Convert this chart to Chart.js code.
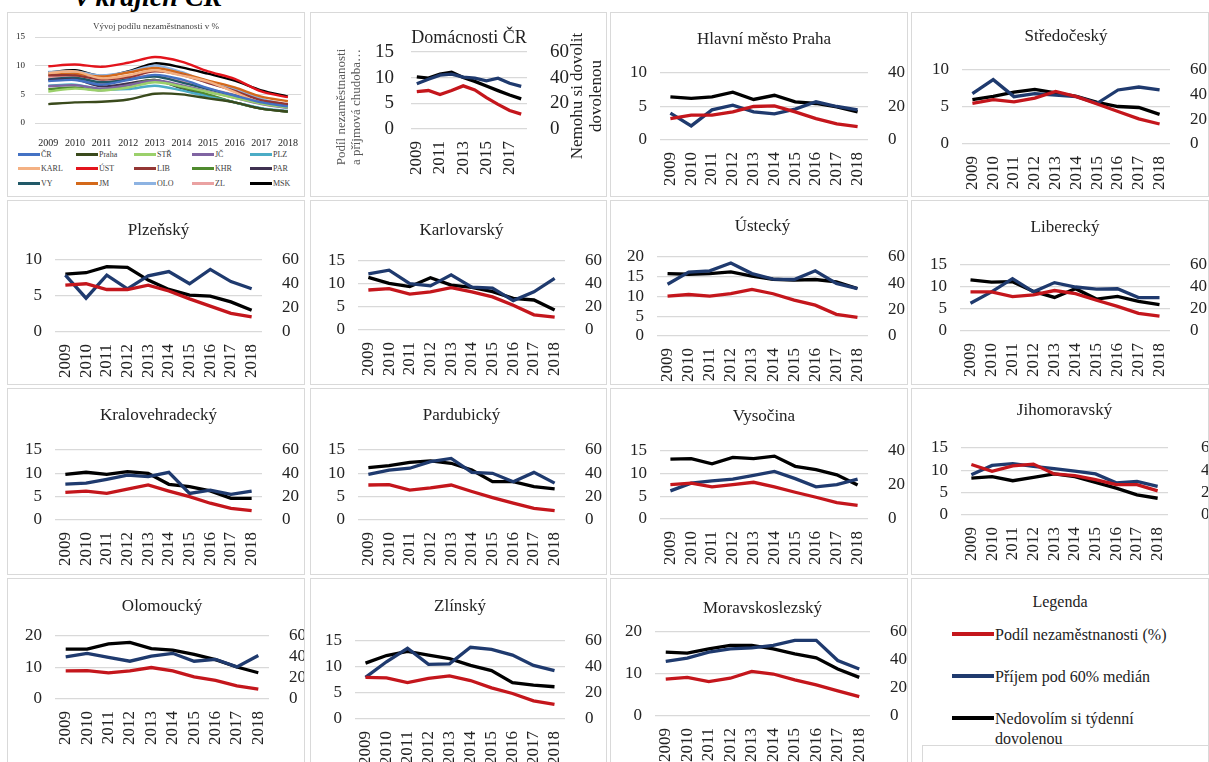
<!DOCTYPE html>
<html>
<head>
<meta charset="utf-8">
<title>Nezaměstnanost, příjmová chudoba a dovolená v krajích ČR</title>
<script src="https://cdn.jsdelivr.net/npm/chart.js@4.4.1/dist/chart.umd.min.js"></script>
<style>
    body { margin: 0; background: #fff; font-family: "Liberation Serif", "Times New Roman", serif; }
    #page { position: relative; width: 1209px; height: 762px; overflow: hidden; background: #fff; }
    .heading { position: absolute; left: 76px; top: -17px; font-size: 28px; font-weight: bold; font-style: italic; line-height: 1; color: #000; }
    .panel { position: absolute; border: 1px solid #d9d9d9; box-sizing: border-box; background: #fff; overflow: hidden; }
    .panel canvas { position: absolute; left: 0; top: 0; }
    .ovLegend { position: absolute; left: 10px; top: 135px; width: 290px; display: grid; grid-template-columns: repeat(5, 58px); row-gap: 2.5px; }
    .ovItem { display: flex; align-items: center; font-size: 8px; color: #404040; height: 12px; white-space: nowrap; }
    .ovItem span { display: inline-block; width: 22px; height: 3px; margin-right: 1px; }
    .lgTitle { position: absolute; left: 0; right: 0; top: 14px; text-align: center; font-size: 16px; color: #222; }
    .lgItem { position: absolute; left: 40px; font-size: 16px; color: #222; line-height: 20px; }
    .lgItem span { display: inline-block; width: 42px; height: 4px; vertical-align: middle; margin-right: 1px; position: relative; top: -2px; }
    .lgBox { position: absolute; left: 10px; top: 166px; width: 300px; height: 40px; border: 1px solid #d9d9d9; }
</style>
</head>
<body>
<div id="page">
    <div class="heading">v krajích ČR</div>
</div>

<script>
// ------------------------------------------------------------
// Data
// ------------------------------------------------------------
var years = ['2009', '2010', '2011', '2012', '2013', '2014', '2015', '2016', '2017', '2018'];

// overview panel: unemployment share by region (%)
var overviewTitle = 'Vývoj podílu nezaměstnanosti v %';
var overviewCodes = ['ČR', 'Praha', 'STŘ', 'JČ', 'PLZ', 'KARL', 'ÚST', 'LIB', 'KHR', 'PAR', 'VY', 'JM', 'OLO', 'ZL', 'MSK'];
var rateCR    = [7.3, 7.5, 6.7, 7.5, 8.4, 7.6, 6.1, 4.8, 3.6, 2.9];
var ratePraha = [3.3, 3.6, 3.7, 4.1, 5.1, 5.0, 4.3, 3.6, 2.5, 2.0];
var rateSTR   = [5.5, 6.0, 5.7, 6.2, 7.1, 6.4, 5.4, 4.4, 3.4, 2.7];
var rateJC    = [6.4, 6.6, 6.0, 6.6, 7.4, 6.6, 5.5, 4.4, 3.3, 2.6];
var ratePLZ   = [6.5, 6.7, 5.9, 5.9, 6.5, 5.7, 4.6, 3.6, 2.6, 2.1];
var rateKARL  = [8.7, 9.0, 7.8, 8.3, 9.2, 8.3, 7.2, 5.4, 3.4, 2.8];
var rateUST   = [9.9, 10.2, 9.8, 10.5, 11.5, 10.7, 9.0, 7.7, 5.5, 4.5];
var rateLIB   = [8.3, 8.3, 7.6, 8.0, 9.0, 8.4, 7.0, 5.6, 4.0, 3.3];
var rateKHR   = [5.9, 6.2, 5.7, 6.6, 7.5, 6.2, 5.0, 3.6, 2.5, 2.0];
var ratePAR   = [7.5, 7.6, 6.4, 6.9, 7.5, 6.1, 4.8, 3.6, 2.5, 2.0];
var rateVY    = [7.6, 7.9, 7.1, 7.6, 8.1, 7.1, 5.9, 4.8, 3.6, 3.1];
var rateJM    = [8.4, 8.6, 8.1, 8.8, 9.6, 8.7, 7.4, 6.2, 4.6, 3.8];
var rateOLO   = [8.9, 9.0, 8.3, 8.9, 10.0, 8.9, 7.0, 5.9, 4.2, 3.1];
var rateZL    = [8.0, 7.9, 7.0, 7.8, 8.3, 7.4, 6.0, 4.9, 3.5, 2.8];
var rateMSK   = [8.8, 9.2, 8.2, 9.0, 10.4, 9.7, 8.6, 7.4, 5.7, 4.6];
var overviewRates = [rateCR, ratePraha, rateSTR, rateJC, ratePLZ, rateKARL, rateUST, rateLIB,
                     rateKHR, ratePAR, rateVY, rateJM, rateOLO, rateZL, rateMSK];
var overviewTicks = [0, 5, 10, 15];

// region panels
var regionNames = ['Domácnosti ČR', 'Hlavní město Praha', 'Středočeský', 'Plzeňský', 'Karlovarský',
                   'Ústecký', 'Liberecký', 'Kralovehradecký', 'Pardubický', 'Vysočina',
                   'Jihomoravský', 'Olomoucký', 'Zlínský', 'Moravskoslezský'];
var seriesNames = ['Podíl nezaměstnanosti (%)', 'Příjem pod 60% medián', 'Nedovolím si týdenní dovolenou'];

// red: unemployment share (left axis)
var unemploymentByRegion = [
    [7.3, 7.5, 6.7, 7.5, 8.4, 7.6, 6.1, 4.8, 3.6, 2.9],
    [3.2, 3.7, 3.7, 4.2, 5.0, 5.1, 4.2, 3.2, 2.4, 2.0],
    [5.5, 6.0, 5.7, 6.2, 7.1, 6.4, 5.4, 4.4, 3.4, 2.7],
    [6.5, 6.7, 5.9, 5.9, 6.5, 5.7, 4.6, 3.6, 2.6, 2.1],
    [8.7, 9.0, 7.8, 8.3, 9.2, 8.3, 7.2, 5.4, 3.3, 2.8],
    [10.1, 10.5, 10.1, 10.7, 11.8, 10.7, 9.1, 7.8, 5.5, 4.7],
    [8.9, 8.9, 7.8, 8.2, 9.2, 8.5, 7.0, 5.6, 4.0, 3.4],
    [5.9, 6.2, 5.7, 6.6, 7.5, 6.2, 5.0, 3.6, 2.5, 2.0],
    [7.5, 7.6, 6.4, 6.9, 7.5, 6.1, 4.8, 3.6, 2.5, 2.0],
    [7.6, 7.9, 7.1, 7.6, 8.1, 7.1, 5.9, 4.8, 3.6, 3.0],
    [11.3, 9.8, 11.0, 11.4, 9.2, 8.8, 7.9, 6.8, 6.8, 5.4],
    [8.9, 9.0, 8.3, 8.9, 10.0, 8.9, 7.0, 5.9, 4.2, 3.1],
    [8.0, 7.9, 7.0, 7.8, 8.3, 7.4, 6.0, 4.9, 3.5, 2.8],
    [8.8, 9.2, 8.2, 9.0, 10.6, 10.0, 8.6, 7.4, 6.0, 4.6]
];
// blue: income below 60 % of median (left axis)
var povertyByRegion = [
    [8.8, 9.7, 10.5, 10.7, 10.1, 9.9, 9.4, 9.9, 8.9, 8.3],
    [4.0, 2.1, 4.5, 5.2, 4.2, 3.9, 4.6, 5.7, 5.0, 4.5],
    [6.8, 8.7, 6.4, 6.8, 6.6, 6.4, 5.5, 7.3, 7.7, 7.3],
    [7.9, 4.7, 7.9, 6.0, 7.8, 8.4, 6.7, 8.7, 7.0, 6.0],
    [12.2, 13.0, 10.1, 9.6, 12.0, 9.3, 9.1, 6.4, 8.3, 11.2],
    [13.1, 16.2, 16.5, 18.5, 15.8, 14.4, 14.3, 16.5, 13.3, 12.0],
    [6.3, 8.9, 11.9, 8.9, 11.0, 10.0, 9.5, 9.6, 7.6, 7.6],
    [7.7, 7.9, 8.7, 9.6, 9.3, 10.2, 5.7, 6.4, 5.5, 6.2],
    [9.8, 10.7, 11.1, 12.5, 13.2, 10.2, 10.0, 8.2, 10.2, 7.9],
    [6.2, 7.9, 8.4, 8.8, 9.6, 10.5, 8.9, 7.1, 7.6, 8.8],
    [9.0, 11.1, 11.5, 10.9, 10.4, 9.8, 9.2, 7.2, 7.5, 6.4],
    [13.4, 14.5, 13.2, 12.0, 13.6, 14.5, 12.0, 12.6, 10.2, 13.8],
    [8.0, 11.0, 13.6, 10.5, 10.6, 13.8, 13.4, 12.3, 10.3, 9.3],
    [13.0, 13.8, 15.2, 16.0, 16.2, 16.8, 18.0, 18.0, 13.2, 11.2]
];
// black: cannot afford a week of holiday (right axis)
var holidayByRegion = [
    [40.7, 39.7, 42.8, 44.3, 40.2, 37.1, 33.5, 29.9, 26.5, 23.5],
    [25.7, 24.8, 25.7, 28.5, 24.2, 26.7, 22.8, 21.8, 19.8, 16.8],
    [35.9, 38.7, 42.0, 44.2, 41.4, 38.7, 33.7, 30.4, 29.6, 24.0],
    [48.3, 49.4, 54.4, 53.9, 43.3, 35.5, 30.7, 29.9, 25.1, 18.1],
    [45.8, 40.6, 37.7, 45.5, 39.1, 37.1, 33.3, 27.5, 26.1, 17.4],
    [47.4, 46.9, 47.4, 48.7, 45.4, 43.1, 42.4, 42.9, 41.1, 36.1],
    [46.5, 44.5, 44.8, 36.0, 30.5, 38.5, 29.0, 31.5, 27.0, 24.0],
    [39.1, 40.9, 39.1, 41.4, 40.0, 30.6, 28.6, 24.9, 18.6, 18.6],
    [44.9, 46.6, 49.4, 50.6, 48.6, 42.9, 32.9, 32.9, 28.6, 26.6],
    [35.2, 35.5, 32.5, 36.2, 35.5, 37.0, 31.0, 29.0, 26.0, 20.0],
    [33.0, 34.3, 30.7, 33.7, 36.9, 34.3, 29.2, 24.1, 18.0, 15.0],
    [47.5, 47.5, 52.5, 54.0, 48.0, 46.5, 42.5, 37.5, 30.5, 25.0],
    [43.0, 48.8, 52.0, 49.2, 46.4, 41.2, 37.2, 28.0, 26.0, 24.8],
    [45.6, 44.9, 48.0, 50.4, 50.4, 48.0, 44.4, 41.5, 33.6, 27.6]
];

// axis ranges per panel
var leftMax   = [15, 10, 10, 10, 15, 20, 15, 15, 15, 15, 15, 20, 15, 20];
var leftStep  = [5, 5, 5, 5, 5, 5, 5, 5, 5, 5, 5, 10, 5, 10];
var rightMax  = [60, 40, 60, 60, 60, 60, 60, 60, 60, 40, 60, 60, 60, 60];
var rightStep = [20, 20, 20, 20, 20, 20, 20, 20, 20, 20, 20, 20, 20, 20];

// Domácnosti ČR axis titles
var leftAxisTitle = ['Podíl nezaměstnanosti', 'a příjmová chudoba…'];
var rightAxisTitle = ['Nemohu si dovolit', 'dovolenou'];

// ------------------------------------------------------------
// Styles / layout
// ------------------------------------------------------------
var SERIF = '"Liberation Serif", "Times New Roman", serif';
var INK = '#222';
var GRID = '#d9d9d9';
var seriesColors = ['#c4161c', '#1f3a6e', '#000000'];
var overviewColors = ['#4472c4', '#3a4a1c', '#9bd06b', '#8064a2', '#4bacc6', '#f4b183', '#e3141c', '#943634',
                      '#4f8a2e', '#3f3151', '#215968', '#d4691a', '#8db3e2', '#eaa2a2', '#000000'];

var colLeft = [7, 310, 610, 911];
var colWidth = [298, 297, 298, 298];
var rowTop = [12, 200, 388, 578];
var rowHeight = [185, 185, 187, 190];

// plot area of every region panel: x relative to the panel, y on the page
var plotLeft   = [101, 50, 51, 48, 48, 47, 49, 48, 48, 50, 50, 48, 45, 45];
var plotRight  = [217, 258, 259, 255, 255, 258, 259, 255, 255, 258, 257, 262, 255, 260];
var plotTop    = [52, 73, 70, 260, 261, 257, 265, 450, 450, 451, 448, 636, 641, 632];
var plotBottom = [129, 140, 144, 332, 330, 336, 331, 520, 520, 519, 515, 699, 719, 716];
var titleMid   = [38, 40, 37, 231, 231, 227, 228, 416, 416, 417, 411, 607, 607, 609];
var rightPad   = [15, 12, 12, 12, 12, 12, 12, 12, 12, 12, 25, 12, 12, 12];

var page = document.getElementById('page');

function makePanel(row, col) {
    var div = document.createElement('div');
    div.className = 'panel';
    div.style.left = colLeft[col] + 'px';
    div.style.top = rowTop[row] + 'px';
    div.style.width = colWidth[col] + 'px';
    div.style.height = rowHeight[row] + 'px';
    page.appendChild(div);
    return div;
}

function addCanvas(panel, w, h) {
    var canvas = document.createElement('canvas');
    canvas.width = w;
    canvas.height = h;
    canvas.style.width = w + 'px';
    canvas.style.height = h + 'px';
    panel.appendChild(canvas);
    return canvas;
}

// fixed tick set 0..max by step, no auto-skipping
function fixedTicks(max, step) {
    return function(axis) {
        var ticks = [];
        for (var v = 0; v <= max + 1e-9; v += step) ticks.push({ value: v });
        axis.ticks = ticks;
    };
}

// rotated axis titles (both read bottom-to-top like in the source)
var axisTitlesPlugin = {
    id: 'axisTitles',
    afterDraw: function(chart, args, opts) {
        if (!opts.items) return;
        var ctx = chart.ctx;
        opts.items.forEach(function(t) {
            ctx.save();
            ctx.font = t.size + 'px ' + SERIF;
            ctx.fillStyle = t.color;
            ctx.textAlign = 'center';
            ctx.textBaseline = 'middle';
            t.lines.forEach(function(line, k) {
                ctx.save();
                ctx.translate(t.x + k * t.gap, t.y);
                ctx.rotate(-Math.PI / 2);
                ctx.fillText(line, 0, 0);
                ctx.restore();
            });
            ctx.restore();
        });
    }
};

// ------------------------------------------------------------
// Overview panel
// ------------------------------------------------------------
(function() {
    var panel = makePanel(0, 0);
    var w = colWidth[0] - 2;
    var h = 134;
    var canvas = addCanvas(panel, w, h);
    var top0 = rowTop[0] + 1;

    var datasets = overviewCodes.map(function(code, k) {
        return {
            label: code,
            data: overviewRates[k],
            borderColor: overviewColors[k],
            backgroundColor: overviewColors[k],
            borderWidth: 2.4,
            pointRadius: 0,
            tension: 0.3
        };
    });

    var titleSize = 9;
    var padTop = (27 - top0) - titleSize * 0.6;

    new Chart(canvas, {
        type: 'line',
        data: { labels: years, datasets: datasets },
        options: {
            responsive: false,
            animation: false,
            layout: { padding: 0 },
            plugins: {
                legend: { display: false },
                tooltip: { enabled: false },
                title: {
                    display: true,
                    text: overviewTitle,
                    color: '#404040',
                    font: { family: SERIF, size: titleSize, weight: 'normal' },
                    padding: { top: padTop, bottom: (37 - top0) - padTop - titleSize * 1.2 }
                }
            },
            scales: {
                x: {
                    offset: true,
                    grid: { display: false },
                    border: { display: false },
                    ticks: { color: INK, font: { family: SERIF, size: 10 }, maxRotation: 0, autoSkip: false, padding: 6 },
                    afterFit: function(scale) { scale.height = h - (123 - top0); }
                },
                y: {
                    min: overviewTicks[0],
                    max: overviewTicks[overviewTicks.length - 1],
                    afterBuildTicks: function(axis) {
                        axis.ticks = overviewTicks.map(function(v) { return { value: v }; });
                    },
                    grid: { color: GRID, drawTicks: false },
                    border: { display: false },
                    ticks: { color: INK, font: { family: SERIF, size: 9 }, padding: 10, autoSkip: false },
                    afterFit: function(scale) { scale.width = 27; }
                },
                yPad: {
                    position: 'right',
                    display: true,
                    grid: { display: false },
                    border: { display: false },
                    ticks: { display: false },
                    afterFit: function(scale) { scale.width = 2; }
                }
            }
        }
    });

    var legend = document.createElement('div');
    legend.className = 'ovLegend';
    overviewCodes.forEach(function(code, k) {
        var item = document.createElement('div');
        item.className = 'ovItem';
        var sw = document.createElement('span');
        sw.style.background = overviewColors[k];
        item.appendChild(sw);
        item.appendChild(document.createTextNode(code));
        legend.appendChild(item);
    });
    panel.appendChild(legend);
})();

// ------------------------------------------------------------
// Region panels
// ------------------------------------------------------------
function makeRegionChart(i, row, col) {
    var panel = makePanel(row, col);
    var w = colWidth[col] - 2;
    var h = rowHeight[row] - 2;
    var canvas = addCanvas(panel, w, h);
    var households = (i === 0);

    // canvas coordinates of the plot area
    var top0 = rowTop[row] + 1;
    var pLeft = plotLeft[i] - 1;
    var pRight = plotRight[i] - 1;
    var pTop = plotTop[i] - top0;
    var pBottom = plotBottom[i] - top0;

    var datasets = [unemploymentByRegion[i], povertyByRegion[i], holidayByRegion[i]].map(function(values, k) {
        return {
            label: seriesNames[k],
            data: values,
            borderColor: seriesColors[k],
            backgroundColor: seriesColors[k],
            borderWidth: 3.3,
            pointRadius: 0,
            tension: 0,
            yAxisID: k === 2 ? 'y1' : 'y'
        };
    });

    var tickFont = { family: SERIF, size: households ? 19 : 17 };
    var titleSize = households ? 18 : 17;
    var padTop = (titleMid[i] - top0) - titleSize * 0.6;

    new Chart(canvas, {
        type: 'line',
        data: { labels: years, datasets: datasets },
        options: {
            responsive: false,
            animation: false,
            layout: { padding: 0 },
            plugins: {
                legend: { display: false },
                tooltip: { enabled: false },
                title: {
                    display: true,
                    text: regionNames[i],
                    color: INK,
                    fullSize: false,
                    font: { family: SERIF, size: titleSize, weight: 'normal' },
                    padding: { top: padTop, bottom: pTop - padTop - titleSize * 1.2 }
                },
                axisTitles: households ? {
                    items: [
                        { lines: leftAxisTitle, x: 31, gap: 15, y: 107 - top0, size: 13, color: '#595959' },
                        { lines: rightAxisTitle, x: 267, gap: 19, y: 96 - top0, size: 17, color: INK }
                    ]
                } : {}
            },
            scales: {
                x: {
                    offset: true,
                    grid: { display: false },
                    border: { display: false },
                    ticks: {
                        color: INK,
                        font: { family: SERIF, size: 17 },
                        minRotation: 90,
                        maxRotation: 90,
                        autoSkip: false,
                        padding: 4,
                        callback: function(value, index) {
                            if (households && index % 2 === 1) return '';
                            return this.getLabelForValue(value);
                        }
                    },
                    afterFit: function(scale) { scale.height = h - pBottom; }
                },
                y: {
                    position: 'left',
                    min: 0,
                    max: leftMax[i],
                    afterBuildTicks: fixedTicks(leftMax[i], leftStep[i]),
                    grid: { color: GRID, drawTicks: false, lineWidth: 1.3 },
                    border: { display: false },
                    ticks: { autoSkip: false, color: INK, font: tickFont, padding: households ? 17 : 13 },
                    afterFit: function(scale) { scale.width = pLeft; }
                },
                y1: {
                    position: 'right',
                    min: 0,
                    max: rightMax[i],
                    afterBuildTicks: fixedTicks(rightMax[i], rightStep[i]),
                    grid: { display: false },
                    border: { display: false },
                    ticks: { autoSkip: false, color: INK, font: tickFont, padding: rightPad[i] },
                    afterFit: function(scale) { scale.width = w - pRight; }
                }
            }
        },
        plugins: [axisTitlesPlugin]
    });
}

// grid order: overview first, legend last
var cellOrder = [[0, 1], [0, 2], [0, 3], [1, 0], [1, 1], [1, 2], [1, 3], [2, 0], [2, 1], [2, 2], [2, 3], [3, 0], [3, 1], [3, 2]];
regionNames.forEach(function(name, i) {
    makeRegionChart(i, cellOrder[i][0], cellOrder[i][1]);
});

// ------------------------------------------------------------
// Legend panel
// ------------------------------------------------------------
(function() {
    var panel = makePanel(3, 3);
    var title = document.createElement('div');
    title.className = 'lgTitle';
    title.textContent = 'Legenda';
    panel.appendChild(title);

    var itemTops = [46, 88, 130];
    seriesNames.forEach(function(name, k) {
        var item = document.createElement('div');
        item.className = 'lgItem';
        item.style.top = itemTops[k] + 'px';
        var sw = document.createElement('span');
        sw.style.background = seriesColors[k];
        item.appendChild(sw);
        item.appendChild(document.createTextNode(k === 2 ? 'Nedovolím si týdenní' : name));
        if (k === 2) {
            item.appendChild(document.createElement('br'));
            var pad = document.createElement('span');
            pad.style.background = 'transparent';
            item.appendChild(pad);
            item.appendChild(document.createTextNode('dovolenou'));
        }
        panel.appendChild(item);
    });

    var box = document.createElement('div');
    box.className = 'lgBox';
    panel.appendChild(box);
})();
</script>
</body>
</html>
